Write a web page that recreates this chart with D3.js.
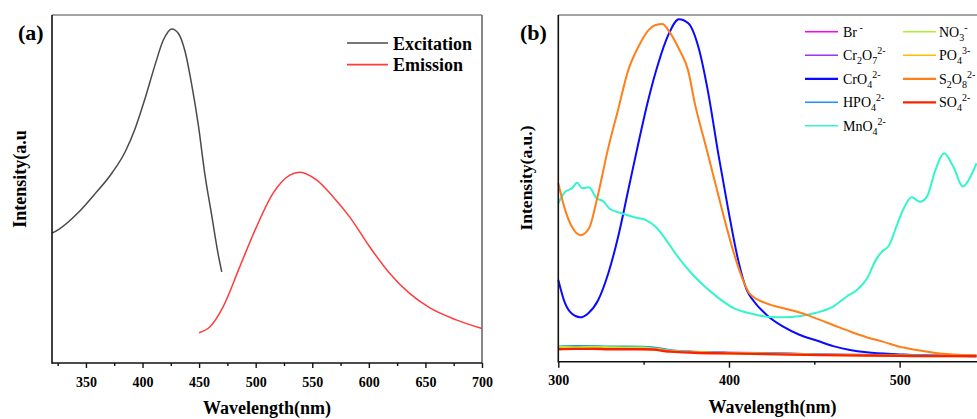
<!DOCTYPE html>
<html><head><meta charset="utf-8">
<script src="https://cdn.jsdelivr.net/npm/d3@7"></script>
<style>
html,body{margin:0;padding:0;background:#fff;overflow:hidden;}
svg{display:block;}
text{font-family:"Liberation Serif","Times New Roman",serif;fill:#000;}
</style></head>
<body>
<svg id="chart" width="977" height="419"></svg>
<script>
// ---------- Panel (a) data ----------
const excWl  = [320, 326, 343.5, 358, 373, 384.7, 393.5, 402.3, 411, 418.4, 425.8, 431.7, 437.6, 443.5, 449.3, 455.2, 461.1, 467, 470];
const excInt = [373, 384, 433, 486, 546, 607, 674, 761, 856, 928, 960, 947, 895, 799, 684, 540, 425, 310, 262];
const emiWl  = [450, 459.6, 471.3, 486, 500.8, 515.4, 530.2, 539, 553.7, 568.3, 583, 600.7, 618.3, 636, 653.6, 677.2, 700];
const emiInt = [87, 104, 162, 277, 392, 488, 540, 548, 526, 478, 420, 334, 258, 200, 159, 124, 99];
const aTicksMajor = [350, 400, 450, 500, 550, 600, 650, 700];
const aTicksMinor = [325, 375, 425, 475, 525, 575, 625, 675];
const aLegend = ["Excitation", "Emission"];

// ---------- Panel (b) data ----------
const crO4Wl  = [300, 304, 308, 312.7, 317.6, 323.4, 329.3, 335.1, 341, 346.9, 352.7, 358.6, 364.4, 370.7, 376.2, 382, 387.9, 393.7, 399.6, 405.4, 410.4, 414.8, 422.1, 431.8, 441.6, 451.4, 461.1, 470.9, 480.7, 500.2, 519.7, 545];
const crO4Int = [236, 168, 138, 128, 140, 178, 255, 361, 495, 630, 755, 861, 942, 988, 976, 909, 774, 601, 438, 293, 207, 173, 135, 101, 77, 61, 45, 34, 27, 21, 17, 16];
const s2o8Wl  = [300, 304, 308, 313, 318, 323, 329, 335, 341, 347, 353, 357, 361, 365, 371, 376, 380, 386, 392, 398, 403.5, 409, 412, 422, 432, 442, 451, 461, 471, 481, 490, 500, 510, 520, 531, 545];
const s2o8Int = [515, 438, 389, 365, 385, 476, 611, 726, 841, 909, 957, 971, 974, 952, 899, 841, 745, 630, 515, 399, 303, 226, 197, 168, 154, 141, 125, 106, 87, 70, 58, 43, 34, 26, 21, 18];
const mnO4Wl  = [300, 304, 308, 311, 314, 318, 322.5, 326, 330, 337, 345, 351, 357, 362.5, 370, 378, 386, 393, 403, 412, 422, 432, 442, 451, 461, 469, 475, 481, 486, 489.5, 494, 498, 502, 507, 512, 516, 521, 526, 531.5, 537, 541, 545];
const mnO4Int = [457, 490, 500, 516, 500, 503, 471, 464, 442, 428, 416, 409, 389, 356, 303, 255, 216, 187, 154, 140, 130, 128, 132, 141, 159, 188, 207, 241, 293, 317, 337, 389, 438, 474, 461, 476, 553, 601, 562, 505, 529, 572];
const lowWl   = [300, 310, 320, 330, 340, 350, 356, 362, 366, 380, 400, 420, 454, 480, 500, 520, 545];
const brInt    = [41, 40, 42, 41, 40, 40, 39, 35, 31, 28, 26, 25, 21, 19, 18, 18, 17];
const cr2o7Int = [40, 41, 41, 40, 41, 39, 38, 34, 31, 28, 25, 24, 20, 19, 18, 17, 16];
const hpo4Int  = [44, 45, 45, 44, 44, 43, 41, 37, 33, 29, 26, 25, 21, 20, 19, 18, 18];
const no3Int   = [43, 42, 43, 42, 41, 41, 38, 34, 31, 28, 25, 24, 20, 19, 18, 17, 17];
const po4Int   = [37, 38, 38, 37, 37, 36, 35, 32, 30, 27, 24, 23, 19, 18, 17, 16, 16];
const so4Int   = [36, 37, 37, 36, 36, 36, 35, 31, 29, 26, 24, 22, 19, 18, 17, 16, 16];
const bTicksMajor = [300, 400, 500];
const bTicksMinor = [350, 450, 550];
const bNames  = ["Br", "Cr2O7", "CrO4", "HPO4", "MnO4", "NO3", "PO4", "S2O8", "SO4"];
const bColors = ["#ff00ff", "#9933ff", "#0a0aff", "#1e90ff", "#33f5cc", "#b0ee30", "#ffc000", "#ff7f1a", "#ff2000"];
const bLabels = [
  [["Br"], [" -", "sup"]],
  [["Cr"], ["2", "sub"], ["O"], ["7", "sub"], ["2-", "sup"]],
  [["CrO"], ["4", "sub"], ["2-", "sup"]],
  [["HPO"], ["4", "sub"], ["2-", "sup"]],
  [["MnO"], ["4", "sub"], ["2-", "sup"]],
  [["NO"], ["3", "sub"], ["-", "sup"]],
  [["PO"], ["4", "sub"], ["3-", "sup"]],
  [["S"], ["2", "sub"], ["O"], ["8", "sub"], ["2-", "sup"]],
  [["SO"], ["4", "sub"], ["2-", "sup"]]
];

const svg = d3.select("#chart");
const FONT = '"Liberation Serif","Times New Roman",serif';

function zip(xs, ys) { return xs.map((x, i) => ({x: x, y: ys[i]})); }

function frame(g, x0, y0, x1, y1, rightBorder) {
  g.append("line").attr("x1", x0).attr("x2", x1).attr("y1", y0).attr("y2", y0).attr("stroke", "#858585").attr("stroke-width", 1.6);
  if (rightBorder) g.append("line").attr("x1", x1).attr("x2", x1).attr("y1", y0).attr("y2", y1).attr("stroke", "#6a6a6a").attr("stroke-width", 1.6);
  g.append("line").attr("x1", x0).attr("x2", x0).attr("y1", y0).attr("y2", y1 + 0.8).attr("stroke", "#111").attr("stroke-width", 1.6);
  g.append("line").attr("x1", x0).attr("x2", x1).attr("y1", y1).attr("y2", y1).attr("stroke", "#111").attr("stroke-width", 1.6);
}

function xAxis(g, x, yPos, major, minor, labelBaseline, majorLen, minorLen) {
  const gm = g.append("g").attr("transform", `translate(0,${yPos})`)
    .call(d3.axisBottom(x).tickValues(major).tickSize(majorLen).tickFormat(d3.format("d")));
  gm.attr("font-family", FONT);
  gm.select(".domain").remove();
  gm.selectAll(".tick line").attr("stroke", "#111").attr("stroke-width", 1.4);
  gm.selectAll(".tick text").attr("y", labelBaseline - yPos).attr("dy", 0)
    .attr("font-size", 14).attr("font-weight", "bold").attr("font-family", FONT).attr("fill", "#000");
  const gn = g.append("g").attr("transform", `translate(0,${yPos})`)
    .call(d3.axisBottom(x).tickValues(minor).tickSize(minorLen).tickFormat(""));
  gn.select(".domain").remove();
  gn.selectAll(".tick line").attr("stroke", "#111").attr("stroke-width", 1.4);
}

// ================= Panel (a) =================
(function () {
  const L = 52, R = 482, T = 15, B = 363;
  const x = d3.scaleLinear().domain([320, 700]).range([L, R]);
  const y = d3.scaleLinear().domain([0, 1000]).range([B, T]);
  const g = svg.append("g");
  const line = d3.line().x(d => x(d.x)).y(d => y(d.y)).curve(d3.curveMonotoneX);
  g.append("path").datum(zip(excWl, excInt)).attr("d", line).attr("fill", "none").attr("stroke", "#4a4a4a").attr("stroke-width", 1.5);
  g.append("path").datum(zip(emiWl, emiInt)).attr("d", line).attr("fill", "none").attr("stroke", "#ff3b3b").attr("stroke-width", 1.5);
  frame(g, L, T, R, B, true);
  xAxis(g, x, B, aTicksMajor, aTicksMinor, 387.3, 5, 3);
  g.append("text").attr("x", 18).attr("y", 40).attr("font-size", 22).attr("font-weight", "bold").text("(a)");
  g.append("text").attr("x", (L + R) / 2).attr("y", 414).attr("text-anchor", "middle")
    .attr("font-size", 18).attr("font-weight", "bold").text("Wavelength(nm)");
  g.append("text").attr("transform", "translate(26,179) rotate(-90)").attr("text-anchor", "middle")
    .attr("font-size", 18).attr("font-weight", "bold").text("Intensity(a.u");
  const lc = ["#4a4a4a", "#ff3b3b"];
  aLegend.forEach((name, i) => {
    const yy = 43 + i * 21.6;
    g.append("line").attr("x1", 347).attr("x2", 388).attr("y1", yy).attr("y2", yy).attr("stroke", lc[i]).attr("stroke-width", 1.6);
    g.append("text").attr("x", 393).attr("y", yy + 6.5).attr("font-size", 18).attr("font-weight", "bold").text(name);
  });
})();

// ================= Panel (b) =================
(function () {
  const L = 558.3, T = 15, B = 361.7;
  const R = 977;
  const x = d3.scaleLinear().domain([300, 600]).range([L, L + 512]);
  const y = d3.scaleLinear().domain([0, 1000]).range([B, T]);
  const g = svg.append("g");
  const line = d3.line().x(d => x(d.x)).y(d => y(d.y)).curve(d3.curveMonotoneX);
  const series = {
    Br: zip(lowWl, brInt), Cr2O7: zip(lowWl, cr2o7Int), CrO4: zip(crO4Wl, crO4Int),
    HPO4: zip(lowWl, hpo4Int), MnO4: zip(mnO4Wl, mnO4Int), NO3: zip(lowWl, no3Int),
    PO4: zip(lowWl, po4Int), S2O8: zip(s2o8Wl, s2o8Int), SO4: zip(lowWl, so4Int)
  };
  bNames.forEach((n, i) => {
    g.append("path").datum(series[n]).attr("d", line).attr("fill", "none")
      .attr("stroke", bColors[i]).attr("stroke-width", n === "SO4" ? 2.4 : 2);
  });
  frame(g, L, T, R + 2, B, false);
  xAxis(g, x, B, bTicksMajor, bTicksMinor, 385, 6, 3);
  g.append("text").attr("x", 520).attr("y", 40).attr("font-size", 22).attr("font-weight", "bold").text("(b)");
  g.append("text").attr("x", 772.5).attr("y", 413).attr("text-anchor", "middle")
    .attr("font-size", 18).attr("font-weight", "bold").text("Wavelength(nm)");
  g.append("text").attr("transform", "translate(532,178) rotate(-90)").attr("text-anchor", "middle")
    .attr("font-size", 17.5).attr("font-weight", "bold").text("Intensity(a.u.)");
  const col = [{lx: 805, tx: 843}, {lx: 903, tx: 939}];
  const order = [[0, 1, 2, 3, 4], [5, 6, 7, 8]];
  order.forEach((idxs, c) => {
    idxs.forEach((idx, r) => {
      const yy = 31.8 + r * 23.5;
      g.append("line").attr("x1", col[c].lx).attr("x2", col[c].lx + 33).attr("y1", yy).attr("y2", yy)
        .attr("stroke", bColors[idx]).attr("stroke-width", idx === 2 || idx === 7 || idx === 8 ? 2.2 : 1.6);
      const t = g.append("text").attr("x", col[c].tx).attr("y", yy + 5).attr("font-size", 14).attr("font-family", FONT);
      let cur = 0;
      bLabels[idx].forEach(([s, k]) => {
        const target = k === "sub" ? 4 : k === "sup" ? -6 : 0;
        const ts = t.append("tspan").attr("dy", target - cur).text(s);
        if (k) ts.attr("font-size", 10);
        cur = target;
      });
    });
  });
})();
</script>
</body></html>
